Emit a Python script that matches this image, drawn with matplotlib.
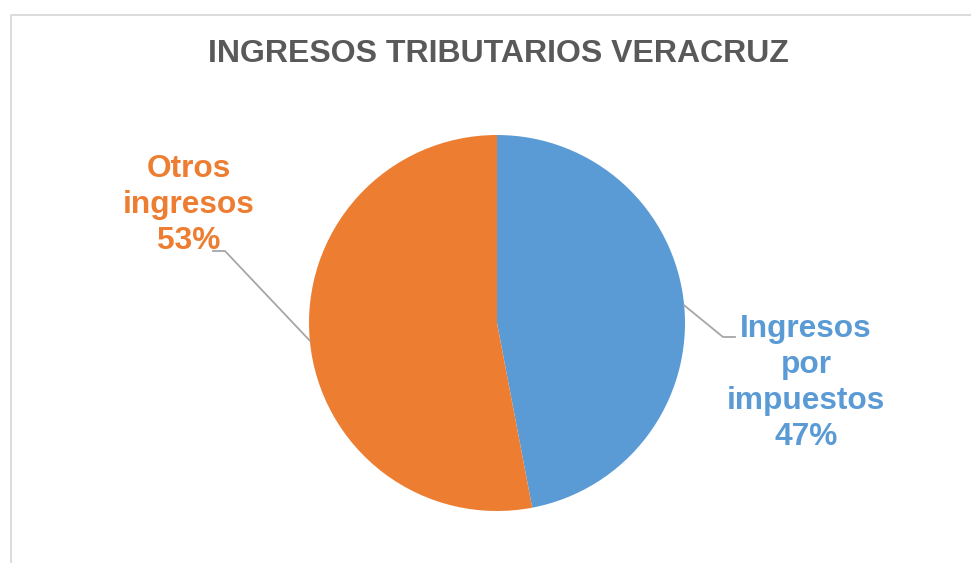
import numpy as np
import matplotlib.pyplot as plt

plt.rcParams['font.family'] = ['Liberation Sans', 'DejaVu Sans']

title = "INGRESOS TRIBUTARIOS VERACRUZ"
labels = ["Ingresos\npor\nimpuestos", "Otros\ningresos"]
values = [47, 53]
colors = ["#5B9BD5", "#ED7D31"]

W, H = 971, 563
fig = plt.figure(figsize=(W / 100, H / 100), dpi=100)
ax = fig.add_axes([0, 0, 1, 1])

# chart frame (light grey, runs off the right/bottom edges)
ax.plot([10.5, 10.5, W + 5], [-5, H - 14.5, H - 14.5], color="#D9D9D9", lw=1.3)

cx, cy, r = 497, 240, 188
wedges, _ = ax.pie(values, colors=colors, startangle=90, counterclock=False,
                   center=(cx, cy), radius=r, frame=True,
                   wedgeprops=dict(linewidth=0))
ax.set_xlim(0, W)
ax.set_ylim(0, H)
ax.set_aspect("equal")
ax.axis("off")

ax.text(498, H - 54, title, ha="center", va="center", fontsize=23,
        fontweight="bold", color="#595959")

# label placement: (text x, text y, elbow x, elbow y, end x)
spots = [(806, 180, 723, 226, 735), (189, 358, 225, 312, 213)]
total = sum(values)
for w, lab, v, col, (tx, ty, ex, ey, hx) in zip(wedges, labels, values, colors, spots):
    mid = np.deg2rad((w.theta1 + w.theta2) / 2)
    px, py = cx + r * np.cos(mid), cy + r * np.sin(mid)
    ax.plot([px, ex, hx], [py, ey, ey], color="#A6A6A6", lw=1.3)
    ax.text(tx, ty, f"{lab}\n{round(100 * v / total)}%", ha="center", va="center",
            fontsize=22.8, fontweight="bold", color=col, linespacing=1.25)

fig.savefig("out.png", dpi=100)
